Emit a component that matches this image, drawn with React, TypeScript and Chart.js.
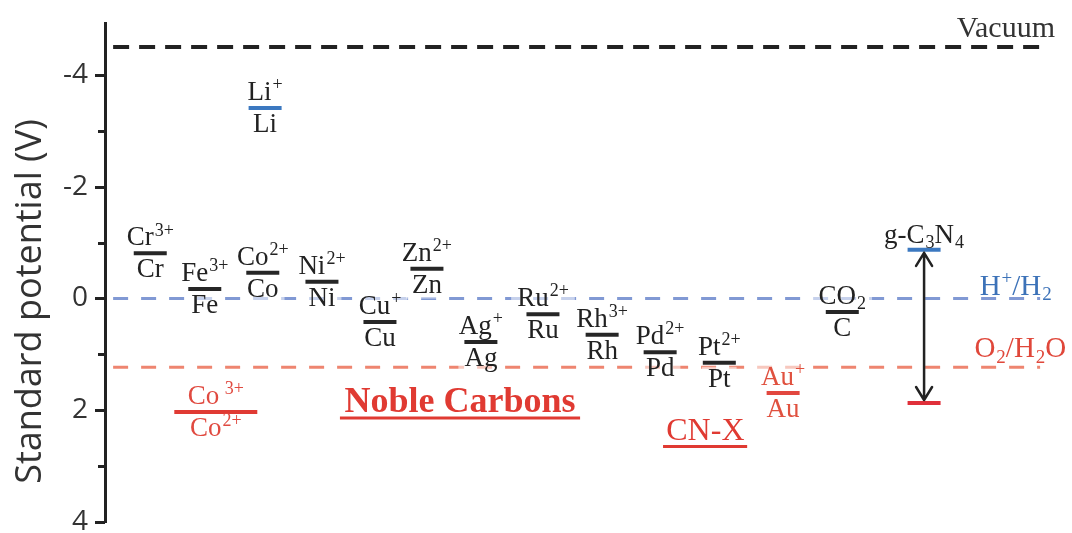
import React, { useEffect, useRef } from 'react';
import { Chart, registerables } from 'chart.js';

Chart.register(...registerables);

// ---------- data ----------
const coupleOxidized = ['Cr^{3+}', 'Fe^{3+}', 'Co^{2+}', 'Ni^{2+}', 'Li^{+}', 'Cu^{+}', 'Zn^{2+}', 'Ag^{+}', 'Ru^{2+}', 'Rh^{3+}', 'Pd^{2+}', 'Pt^{2+}', 'Au^{+}', 'CO_{2}', 'Co^{ 3+}'];
const coupleReduced = ['Cr', 'Fe', 'Co', 'Ni', 'Li', 'Cu', 'Zn', 'Ag', 'Ru', 'Rh', 'Pd', 'Pt', 'Au', 'C', 'Co^{2+}'];
const coupleSlot = [1.0, 1.94, 2.94, 3.96, 2.98, 4.96, 5.77, 6.7, 7.77, 8.79, 9.79, 10.81, 11.91, 12.93, 2.13];
const couplePotential = [-0.81, -0.17, -0.46, -0.3, -3.41, 0.42, -0.53, 0.78, 0.28, 0.65, 0.96, 1.15, 1.69, 0.24, 2.03];
const coupleGroup = ['metal', 'metal', 'metal', 'metal', 'alkali', 'metal', 'metal', 'metal', 'metal', 'metal', 'metal', 'metal', 'gold', 'metal', 'cobalt'];

const gcnLabel = 'g-C_{3}N_{4}';
const gcnSlot = 14.34;
const gcnBands = [-0.87, 1.87]; // conduction band, valence band

const referenceLabels = ['Vacuum', 'H^{+}/H_{2}', 'O_{2}/H_{2}O'];
const referencePotentials = [-4.5, 0, 1.23];
const referenceSpan = [0.36, 16.34];
const referenceLabelSlot = [15.75, 15.92, 16.0];
const referenceLabelPotential = [-4.68, -0.07, 1.05];

const annotationLabels = ['Noble Carbons', 'CN-X'];
const annotationSlot = [6.34, 10.57];
const annotationPotential = [2.04, 2.53];
const annotationUnderline = [[4.27, 8.41], [9.84, 11.29]];
const annotationUnderlinePotential = [2.14, 2.65];

const yTicks = [-4, -3, -2, -1, 0, 1, 2, 3, 4];
const yMin = -4.93;
const yMax = 4;
const xMin = 0.22;
const xMax = 16.89;
const axisTitle = 'Standard potential (V)';

// ---------- styles ----------
const groupStyle: Record<string, { bar: string; text: string; radius: number }> = {
  metal: { bar: '#262626', text: '#222222', radius: 16.5 },
  alkali: { bar: '#3b78c0', text: '#222222', radius: 16.5 },
  gold: { bar: '#e2473f', text: '#e0513f', radius: 16.5 },
  cobalt: { bar: '#e03a33', text: '#e04a40', radius: 41.5 },
};
const refStyle = [
  { color: '#222222', dash: [16, 10], width: 4, text: '#333333' },
  { color: '#8199d4', dash: [15, 13], width: 3, text: '#3c72b8' },
  { color: '#ee8570', dash: [15, 13], width: 3, text: '#e0473a' },
];
const SERIF = '"Liberation Serif", "Times New Roman", serif';
const SANS = '"Open Sans", "Noto Sans", sans-serif';
const LABEL_SIZE = 27;

type Run = { t: string; k: 'n' | 'sup' | 'sub' };
function parseRich(s: string): Run[] {
  const runs: Run[] = [];
  const re = /([\^_])\{([^}]*)\}/g;
  let last = 0;
  let m: RegExpExecArray | null;
  while ((m = re.exec(s))) {
    if (m.index > last) runs.push({ t: s.slice(last, m.index), k: 'n' });
    runs.push({ t: m[2], k: m[1] === '^' ? 'sup' : 'sub' });
    last = re.lastIndex;
  }
  if (last < s.length) runs.push({ t: s.slice(last), k: 'n' });
  return runs;
}

function fontFor(r: Run, size: number, weight: string, family: string) {
  return `${weight} ${r.k === 'n' ? size : Math.round(size * 0.66)}px ${family}`;
}

function measureRich(ctx: CanvasRenderingContext2D, s: string, size: number, weight = 'normal', family = SERIF) {
  let total = 0;
  parseRich(s).forEach((r) => {
    ctx.font = fontFor(r, size, weight, family);
    total += ctx.measureText(r.t).width + (r.k === 'n' ? 0 : 1);
  });
  return total;
}

function drawRich(ctx: CanvasRenderingContext2D, s: string, cx: number, baseline: number, size: number, color: string, weight = 'normal', family = SERIF) {
  const runs = parseRich(s);
  const total = measureRich(ctx, s, size, weight, family);
  let x = cx - total / 2;
  ctx.fillStyle = color;
  ctx.textAlign = 'left';
  ctx.textBaseline = 'alphabetic';
  runs.forEach((r) => {
    ctx.font = fontFor(r, size, weight, family);
    const w = ctx.measureText(r.t).width + (r.k === 'n' ? 0 : 1);
    const dy = r.k === 'sup' ? -size * 0.36 : r.k === 'sub' ? size * 0.2 : 0;
    ctx.fillText(r.t, x + (r.k === 'n' ? 0 : 1), baseline + dy);
    x += w;
  });
  return total;
}

const overlayPlugin = {
  id: 'overlay',
  afterDatasetsDraw(chart: any) {
    const { ctx } = chart;
    const x = chart.scales.x;
    const y = chart.scales.y;
    ctx.save();

    // translucent label boxes (they lighten the dashed lines behind the labels)
    ctx.fillStyle = 'rgba(255,255,255,0.55)';
    coupleSlot.forEach((s, i) => {
      const px = x.getPixelForValue(s);
      const py = y.getPixelForValue(couplePotential[i]);
      const wTop = measureRich(ctx, coupleOxidized[i], LABEL_SIZE) + 12;
      const wBot = measureRich(ctx, coupleReduced[i], LABEL_SIZE) + 12;
      ctx.fillRect(px - wTop / 2, py - 8 - LABEL_SIZE * 0.8, wTop, LABEL_SIZE * 0.8 + 5);
      ctx.fillRect(px - wBot / 2, py + 4, wBot, LABEL_SIZE * 0.95);
    });

    // couple labels
    coupleSlot.forEach((s, i) => {
      const px = x.getPixelForValue(s);
      const py = y.getPixelForValue(couplePotential[i]);
      const st = groupStyle[coupleGroup[i]];
      drawRich(ctx, coupleOxidized[i], px, py - 8, LABEL_SIZE, st.text);
      drawRich(ctx, coupleReduced[i], px, py + 24, LABEL_SIZE, st.text);
    });

    // g-C3N4 label and arrow
    const gx = x.getPixelForValue(gcnSlot);
    const gTop = y.getPixelForValue(gcnBands[0]);
    const gBot = y.getPixelForValue(gcnBands[1]);
    drawRich(ctx, gcnLabel, gx, gTop - 7, LABEL_SIZE, '#222222');
    ctx.strokeStyle = '#222222';
    ctx.lineWidth = 2.5;
    ctx.lineCap = 'round';
    ctx.lineJoin = 'round';
    const t1 = gTop + 3;
    const t2 = gBot - 3;
    ctx.beginPath();
    ctx.moveTo(gx, t1);
    ctx.lineTo(gx, t2);
    ctx.moveTo(gx - 8, t1 + 13);
    ctx.lineTo(gx, t1);
    ctx.lineTo(gx + 8, t1 + 13);
    ctx.moveTo(gx - 8, t2 - 13);
    ctx.lineTo(gx, t2);
    ctx.lineTo(gx + 8, t2 - 13);
    ctx.stroke();

    // reference labels
    referenceLabels.forEach((l, i) => {
      drawRich(ctx, l, x.getPixelForValue(referenceLabelSlot[i]), y.getPixelForValue(referenceLabelPotential[i]), i === 0 ? 30 : 29, refStyle[i].text);
    });

    // annotations
    annotationLabels.forEach((l, i) => {
      const bold = i === 0;
      drawRich(ctx, l, x.getPixelForValue(annotationSlot[i]), y.getPixelForValue(annotationPotential[i]), bold ? 36 : 32, '#e03a32', bold ? 'bold' : 'normal');
      const uy = y.getPixelForValue(annotationUnderlinePotential[i]);
      ctx.strokeStyle = '#e03a32';
      ctx.lineWidth = 3;
      ctx.lineCap = 'butt';
      ctx.beginPath();
      ctx.moveTo(x.getPixelForValue(annotationUnderline[i][0]), uy);
      ctx.lineTo(x.getPixelForValue(annotationUnderline[i][1]), uy);
      ctx.stroke();
    });

    // y tick marks
    const ax = y.right;
    ctx.strokeStyle = '#222222';
    ctx.lineWidth = 3;
    ctx.lineCap = 'butt';
    yTicks.forEach((v) => {
      const py = Math.round(y.getPixelForValue(v)) + 0.5;
      const len = v % 2 === 0 ? 10 : 7;
      ctx.beginPath();
      ctx.moveTo(ax - len, py);
      ctx.lineTo(ax, py);
      ctx.stroke();
    });

    // axis title
    ctx.translate(31, (chart.chartArea.top + chart.chartArea.bottom) / 2 + 29);
    ctx.rotate(-Math.PI / 2);
    ctx.font = `36px ${SANS}`;
    ctx.fillStyle = '#333333';
    ctx.textAlign = 'center';
    ctx.textBaseline = 'middle';
    ctx.fillText(axisTitle, 0, 0);

    ctx.restore();
  },
};

export default function App() {
  const canvasRef = useRef<HTMLCanvasElement | null>(null);

  useEffect(() => {
    document.body.style.margin = '0';
    document.body.style.overflow = 'hidden';
    document.documentElement.style.overflow = 'hidden';
    const canvas = canvasRef.current;
    if (!canvas) return;

    const barPoints = coupleSlot.map((s, i) => ({ x: s, y: couplePotential[i] }));
    const barColors = coupleGroup.map((g) => groupStyle[g].bar);
    const barRadii = coupleGroup.map((g) => groupStyle[g].radius);

    const datasets: any[] = [
      {
        type: 'scatter',
        data: barPoints,
        pointStyle: 'line',
        pointRadius: barRadii,
        pointHoverRadius: barRadii,
        pointBorderWidth: 4,
        pointBorderColor: barColors,
        pointBackgroundColor: barColors,
        clip: false,
      },
      {
        type: 'scatter',
        data: gcnBands.map((b) => ({ x: gcnSlot, y: b })),
        pointStyle: 'line',
        pointRadius: 16.5,
        pointBorderWidth: 4,
        pointBorderColor: ['#3b78c0', '#e0303a'],
        clip: false,
      },
      ...referencePotentials.map((e, i) => ({
        type: 'line',
        data: [
          { x: referenceSpan[0], y: e },
          { x: referenceSpan[1], y: e },
        ],
        borderColor: refStyle[i].color,
        borderWidth: refStyle[i].width,
        borderDash: refStyle[i].dash,
        pointRadius: 0,
        fill: false,
      })),
    ];

    const chart = new Chart(canvas, {
      type: 'scatter',
      data: { datasets },
      options: {
        responsive: false,
        maintainAspectRatio: false,
        devicePixelRatio: 1,
        animation: false,
        events: [],
        layout: { autoPadding: false, padding: { top: 23, bottom: 23, left: 0, right: 0 } },
        plugins: { legend: { display: false }, tooltip: { enabled: false } },
        scales: {
          x: { type: 'linear', min: xMin, max: xMax, display: false },
          y: {
            type: 'linear',
            reverse: true,
            min: yMin,
            max: yMax,
            afterBuildTicks: (scale: any) => {
              scale.ticks = yTicks.map((v) => ({ value: v }));
            },
            afterFit: (scale: any) => {
              scale.width = 105;
              scale.paddingTop = 0;
              scale.paddingBottom = 0;
            },
            ticks: {
              autoSkip: false,
              padding: 17,
              color: '#333333',
              font: { family: SANS, size: 28 },
              callback: (v: any) => (Number(v) % 2 === 0 ? String(v) : ''),
            },
            grid: { display: true, drawOnChartArea: false, drawTicks: false },
            border: { display: true, width: 3, color: '#222222' },
          },
        },
      },
      plugins: [overlayPlugin],
    } as any);

    return () => chart.destroy();
  }, []);

  return (
    <div style={{ width: 1072, height: 545, overflow: 'hidden', background: '#ffffff' }}>
      <canvas ref={canvasRef} width={1072} height={545} style={{ display: 'block' }} />
    </div>
  );
}
